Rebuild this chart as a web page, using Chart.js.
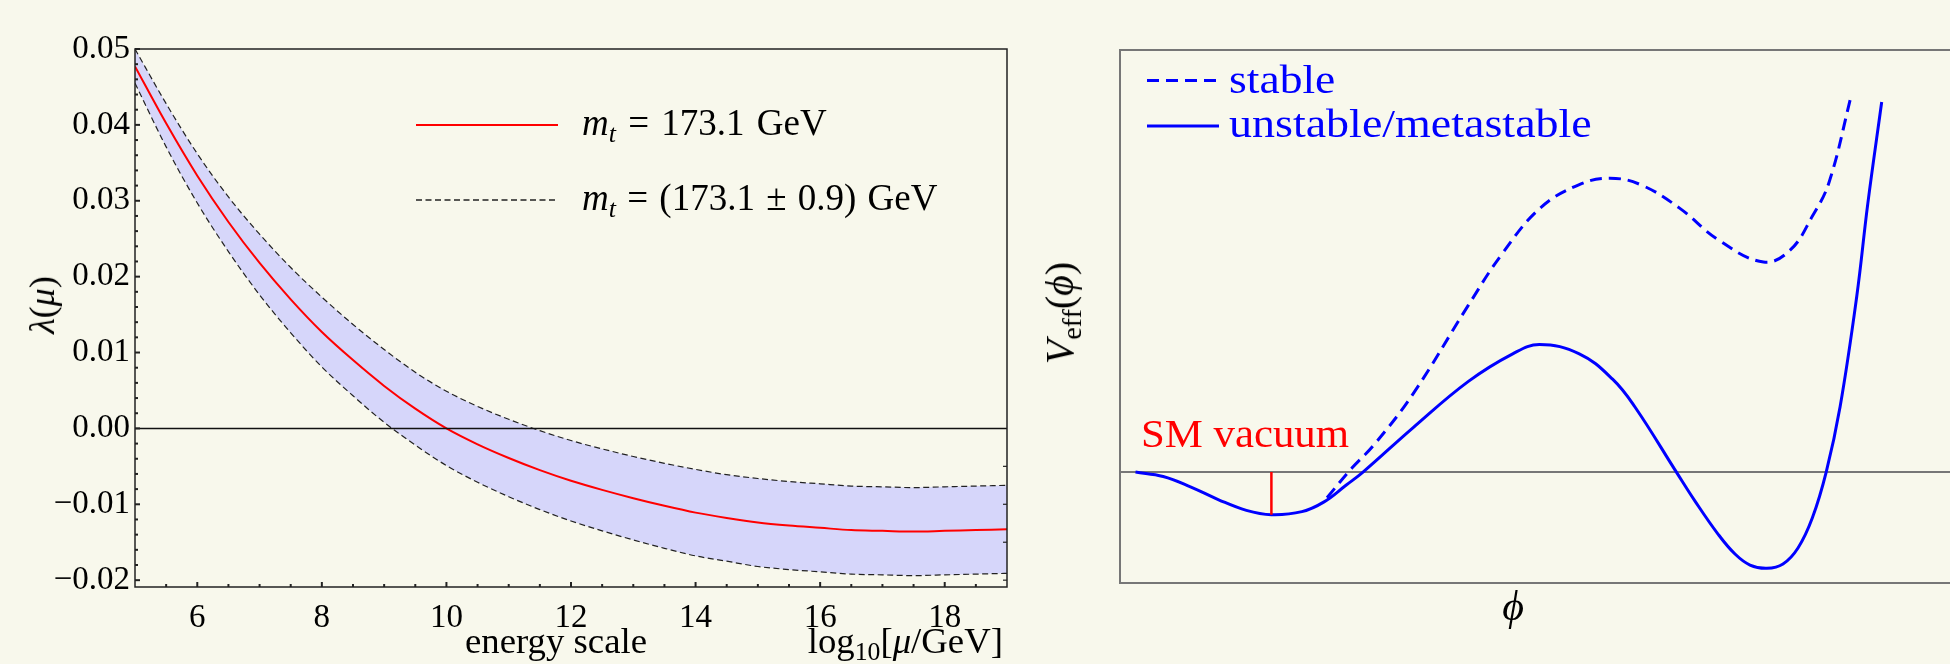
<!DOCTYPE html>
<html>
<head>
<meta charset="utf-8">
<script src="https://cdn.jsdelivr.net/npm/chart.js@4.4.0/dist/chart.umd.min.js"></script>
<style>
  body { margin: 0; background: #f8f8ec; }
  #wrap { position: relative; width: 1950px; height: 664px; overflow: hidden; background: #f8f8ec; }
  canvas { position: absolute; top: 0; }
  .t { position: absolute; white-space: nowrap; font-family: 'Liberation Serif', serif; line-height: 1; color: #000; }
  .t sub { font-size: 70%; vertical-align: -0.28em; line-height: 0; }
  .rot { transform: translate(-50%, -50%) rotate(-90deg); }
  .blue { color: #0000ff; }
  svg { position: absolute; overflow: visible; }
</style>
</head>
<body>
<div id="wrap">
  <canvas id="left" width="1040" height="664" style="left:0"></canvas>
  <canvas id="right" width="910" height="664" style="left:1040px"></canvas>

  <!-- left panel text -->
  <div class="t rot" style="left:42px; top:305px; font-size:36px"><i>λ</i>(<i>μ</i>)</div>
  <div class="t" style="left:556px; top:624px; font-size:35px; transform:translateX(-50%) scaleX(1.05)">energy scale</div>
  <div class="t" style="right:947px; top:624px; font-size:35px; transform:scaleX(1.05); transform-origin:right">log<sub>10</sub>[<i>μ</i>/GeV]</div>

  <svg style="left:416px; top:120px" width="142" height="10"><line x1="0" y1="5" x2="142" y2="5" stroke="#ff0000" stroke-width="2"/></svg>
  <svg style="left:416px; top:195px" width="142" height="10"><line x1="0" y1="5" x2="142" y2="5" stroke="#222" stroke-width="1.3" stroke-dasharray="6,3.5"/></svg>
  <div class="t" style="left:582px; top:104px; font-size:37px; word-spacing:3px"><i>m</i><sub><i>t</i></sub> = 173.1 GeV</div>
  <div class="t" style="left:582px; top:179px; font-size:37px; word-spacing:2px"><i>m</i><sub><i>t</i></sub> = (173.1 ± 0.9) GeV</div>

  <!-- right panel text -->
  <svg style="left:1147px; top:76px" width="72" height="10"><line x1="0" y1="4.5" x2="72" y2="4.5" stroke="#0000ff" stroke-width="3" stroke-dasharray="12,7"/></svg>
  <svg style="left:1147px; top:121px" width="72" height="10"><line x1="0" y1="5" x2="72" y2="5" stroke="#0000ff" stroke-width="3"/></svg>
  <div class="t blue" style="left:1229px; top:60px; font-size:40px; transform:scaleX(1.14); transform-origin:left">stable</div>
  <div class="t blue" style="left:1229px; top:104px; font-size:40px; transform:scaleX(1.15); transform-origin:left">unstable/metastable</div>
  <div class="t" style="left:1141px; top:414px; font-size:40px; color:#ff0000; transform:scaleX(1.07); transform-origin:left">SM vacuum</div>
  <div class="t rot" style="left:1060px; top:313px; font-size:40px"><i>V</i><sub>eff</sub>(<i>ϕ</i>)</div>
  <div class="t" style="left:1513px; top:606px; font-size:42px; transform:translate(-50%,-50%)"><i>ϕ</i></div>
</div>

<script>
// --- left panel: running quartic coupling lambda(mu) ---
const LOG_MU = [5, 5.5, 6, 6.5, 7, 7.5, 8, 8.5, 9, 9.5, 10, 10.5, 11, 11.5, 12,
                12.5, 13, 13.5, 14, 14.5, 15, 15.5, 16, 16.5, 17, 17.5, 18, 18.5, 19];
const LAMBDA_CENTRAL = [0.0477, 0.0402, 0.0333, 0.0272, 0.0218, 0.0170, 0.0127, 0.0090, 0.0056, 0.0026,
                        0.0000, -0.0021, -0.0039, -0.0055, -0.0069, -0.0081, -0.0092, -0.0102, -0.0111, -0.0118,
                        -0.0124, -0.0128, -0.0131, -0.0134, -0.0135, -0.0136, -0.0135, -0.0134, -0.0133];
const LAMBDA_UPPER = [0.0500, 0.0428, 0.0362, 0.0305, 0.0256, 0.0212, 0.0173, 0.0137, 0.0104, 0.0074,
                      0.0049, 0.0029, 0.0012, -0.0003, -0.0016, -0.0027, -0.0037, -0.0046, -0.0054, -0.0061,
                      -0.0066, -0.0070, -0.0073, -0.0076, -0.0077, -0.0078, -0.0077, -0.0076, -0.0075];
const LAMBDA_LOWER = [0.0455, 0.0371, 0.0297, 0.0233, 0.0176, 0.0126, 0.0081, 0.0043, 0.0008, -0.0022,
                      -0.0049, -0.0071, -0.0090, -0.0107, -0.0122, -0.0135, -0.0147, -0.0158, -0.0168, -0.0175,
                      -0.0182, -0.0186, -0.0189, -0.0192, -0.0193, -0.0194, -0.0193, -0.0192, -0.0191];
const X_TICKS = [6, 8, 10, 12, 14, 16, 18];
const Y_TICKS = [0.05, 0.04, 0.03, 0.02, 0.01, 0.00, -0.01, -0.02];
const Y_RIGHT_TICKS = [-0.005, -0.01, -0.015, -0.02];

// --- right panel: effective potential sketch ---
const PHI_SOLID = [1.55, 4.32, 7.10, 9.87, 12.64, 15.14, 18.19, 20.41, 22.63, 24.3, 29.29, 34.84, 39.27, 41.94,
                   45.93, 49.26, 51.48, 55.64, 57.5, 59.8, 61.5, 63.0, 64.68, 66.3, 67.8, 69.23, 70.62,
                   72.01, 73.67, 74.78, 76.17];
const V_SOLID = [0.0, -0.44, -1.5, -2.77, -3.83, -4.26, -3.96, -2.98, -1.29, 0.0, 4.43, 9.08, 11.84, 12.77,
                 11.84, 9.3, 6.54, 0.0, -2.9, -6.2, -8.2, -9.3, -9.63, -9.2, -7.6, -4.6, 0.0,
                 6.54, 17.55, 26.87, 37.04];
const PHI_DASHED = [20.7, 23.19, 25.40, 29.29, 34.84, 38.17, 42.05, 45.93, 48.98, 52.03, 55.92, 59.80,
                    64.35, 67.01, 69.23, 70.90, 73.12];
const V_DASHED = [-2.56, 0.4, 2.73, 7.81, 16.71, 21.79, 26.45, 28.78, 29.41, 28.78, 26.45, 23.27,
                  21.03, 22.21, 25.6, 28.99, 37.67];
const SM_VACUUM_PHI = 15.14;
const SM_VACUUM_V = -4.26;

function pts(xs, ys) {
    return xs.map((x, i) => ({ x: x, y: ys[i] }));
}

// frame + inward ticks like the Mathematica frame
const leftFrame = {
    id: 'leftFrame',
    afterDatasetsDraw(chart) {
        const { ctx, chartArea: a, scales: { x, y } } = chart;
        ctx.save();
        ctx.strokeStyle = '#222';
        ctx.lineWidth = 1.5;
        ctx.strokeRect(a.left, a.top, a.right - a.left, a.bottom - a.top);
        ctx.lineWidth = 2;
        // bottom ticks, every 0.5
        for (let v = 5.5; v < 19; v += 0.5) {
            const px = x.getPixelForValue(v);
            const len = (v % 2 === 0) ? 5 : 3;
            ctx.beginPath(); ctx.moveTo(px, a.bottom); ctx.lineTo(px, a.bottom - len); ctx.stroke();
        }
        // left ticks, every 0.002
        for (let k = -10; k <= 25; k++) {
            const v = k * 0.002;
            const py = y.getPixelForValue(v);
            if (py < a.top - 0.5 || py > a.bottom) continue;
            const len = (k % 5 === 0) ? 5 : 3;
            ctx.beginPath(); ctx.moveTo(a.left, py); ctx.lineTo(a.left + len, py); ctx.stroke();
        }
        ctx.lineWidth = 1.2;
        Y_RIGHT_TICKS.forEach(v => {
            const py = y.getPixelForValue(v);
            ctx.beginPath(); ctx.moveTo(a.right, py); ctx.lineTo(a.right - 4, py); ctx.stroke();
        });
        ctx.restore();
    }
};

const rightFrame = {
    id: 'rightFrame',
    afterDatasetsDraw(chart) {
        const { ctx, chartArea: a } = chart;
        ctx.save();
        ctx.strokeStyle = '#777';
        ctx.lineWidth = 2;
        ctx.strokeRect(a.left, a.top, a.right - a.left + 20, a.bottom - a.top);
        ctx.restore();
    }
};

const serif = { family: "'Liberation Serif', serif", size: 33 };

new Chart(document.getElementById('left'), {
    type: 'line',
    data: {
        datasets: [
            { label: 'zero', data: [{ x: 5, y: 0 }, { x: 19, y: 0 }], borderColor: '#111', borderWidth: 1.5, pointRadius: 0, fill: false },
            { label: 'mt = 173.1 GeV', data: pts(LOG_MU, LAMBDA_CENTRAL), borderColor: '#ff0000', borderWidth: 2, pointRadius: 0,
              cubicInterpolationMode: 'monotone', fill: false },
            { label: 'mt + 0.9', data: pts(LOG_MU, LAMBDA_UPPER), borderColor: '#222', borderWidth: 1.2, borderDash: [6, 3.5],
              pointRadius: 0, cubicInterpolationMode: 'monotone', fill: { target: 3 }, backgroundColor: 'rgb(214,214,250)' },
            { label: 'mt - 0.9', data: pts(LOG_MU, LAMBDA_LOWER), borderColor: '#222', borderWidth: 1.2, borderDash: [6, 3.5],
              pointRadius: 0, cubicInterpolationMode: 'monotone', fill: false }
        ]
    },
    options: {
        responsive: false,
        animation: false,
        devicePixelRatio: 1,
        layout: { padding: { top: 49, right: 33, left: 0, bottom: 0 } },
        plugins: {
            legend: { display: false },
            tooltip: { enabled: false },
            filler: { drawTime: 'beforeDatasetsDraw' }
        },
        scales: {
            x: {
                type: 'linear', min: 5, max: 19,
                afterBuildTicks: s => { s.ticks = X_TICKS.map(v => ({ value: v })); },
                afterFit: s => { s.height = 77; },
                grid: { display: false, drawTicks: false }, border: { display: false },
                ticks: { font: serif, color: '#000', padding: 12, maxRotation: 0, callback: v => String(v) }
            },
            y: {
                type: 'linear', min: -0.0209, max: 0.05,
                afterBuildTicks: s => { s.ticks = Y_TICKS.map(v => ({ value: v })); },
                afterFit: s => { s.width = 135; },
                grid: { display: false, drawTicks: false }, border: { display: false },
                ticks: { font: serif, color: '#000', padding: 5,
                         callback: v => (v < 0 ? '\u2212' : '') + Math.abs(v).toFixed(2) }
            }
        }
    },
    plugins: [leftFrame]
});

new Chart(document.getElementById('right'), {
    type: 'line',
    data: {
        datasets: [
            { label: 'SM vacuum', data: [{ x: SM_VACUUM_PHI, y: 0 }, { x: SM_VACUUM_PHI, y: SM_VACUUM_V }],
              borderColor: '#ff0000', borderWidth: 2.5, pointRadius: 0, fill: false },
            { label: 'unstable/metastable', data: pts(PHI_SOLID, V_SOLID), borderColor: '#0000ff', borderWidth: 3,
              pointRadius: 0, tension: 0.4, fill: false },
            { label: 'stable', data: pts(PHI_DASHED, V_DASHED), borderColor: '#0000ff', borderWidth: 3, borderDash: [12, 7],
              pointRadius: 0, tension: 0.4, fill: false },
            { label: 'zero', data: [{ x: 0, y: 0 }, { x: 83, y: 0 }], borderColor: '#777', borderWidth: 2, pointRadius: 0, fill: false }
        ]
    },
    options: {
        responsive: false,
        animation: false,
        devicePixelRatio: 1,
        layout: { padding: { top: 50, right: 0, left: 0, bottom: 0 } },
        plugins: { legend: { display: false }, tooltip: { enabled: false } },
        scales: {
            x: { type: 'linear', min: 0, max: 83, afterFit: s => { s.height = 81; },
                 grid: { display: false }, border: { display: false }, ticks: { display: false } },
            y: { type: 'linear', min: -11.1, max: 42.25, afterFit: s => { s.width = 80; },
                 grid: { display: false }, border: { display: false }, ticks: { display: false } }
        }
    },
    plugins: [rightFrame]
});
</script>
</body>
</html>
